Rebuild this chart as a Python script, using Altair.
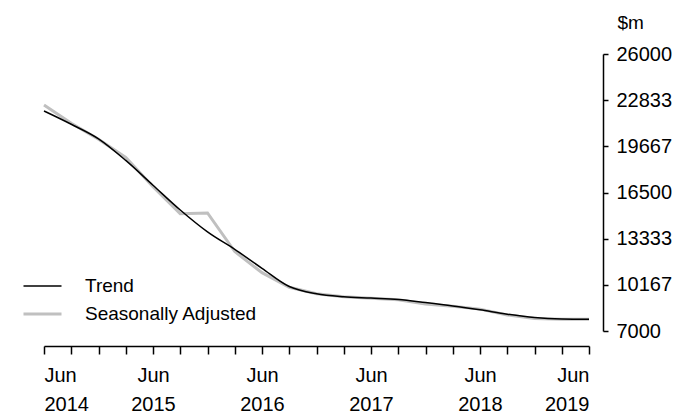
import altair as alt
import pandas as pd

quarters = ["Jun 2014", "Sep 2014", "Dec 2014", "Mar 2015", "Jun 2015", "Sep 2015",
            "Dec 2015", "Mar 2016", "Jun 2016", "Sep 2016", "Dec 2016", "Mar 2017",
            "Jun 2017", "Sep 2017", "Dec 2017", "Mar 2018", "Jun 2018", "Sep 2018",
            "Dec 2018", "Mar 2019", "Jun 2019"]
trend = [22090, 21180, 20180, 18700, 17000, 15300, 13800, 12600, 11300, 10050, 9550,
         9350, 9260, 9160, 8950, 8720, 8450, 8150, 7920, 7820, 7800]
seas_adj = [22500, 21250, 20150, 18900, 16900, 15050, 15100, 12450, 11000, 10000, 9550,
            9350, 9250, 9150, 8850, 8700, 8500, 8100, 7850, 7800, 7800]
y_ticks = [7000, 10167, 13333, 16500, 19667, 22833, 26000]
series_names = ["Trend", "Seasonally Adjusted"]

rows = []
for i, q in enumerate(quarters):
    rows.append({"idx": i, "quarter": q, "series": "Seasonally Adjusted", "value": seas_adj[i]})
for i, q in enumerate(quarters):
    rows.append({"idx": i, "quarter": q, "series": "Trend", "value": trend[i]})
df = pd.DataFrame(rows)

FONT = "Liberation Sans"

legend = alt.Legend(
    title=None, orient="none", legendX=-22, legendY=222,
    symbolType="stroke", symbolSize=1444, labelFontSize=19, labelFont=FONT,
    labelColor="#000", rowPadding=8, labelOffset=22, clipHeight=20, labelLimit=0,
)

x = alt.X("idx:Q", scale=alt.Scale(domain=[0, 20], nice=False, zero=False),
          axis=alt.Axis(values=list(range(21)), title=None, grid=False, offset=15,
                        tickSize=8, tickColor="#000", domainColor="#000", tickWidth=1.5,
                        domainWidth=1.5, labelFont=FONT, labelFontSize=20, labelColor="#000",
                        labelPadding=11, labelLineHeight=29, labelOverlap=False,
                        labelExpr="datum.value % 4 == 0 ? ['Jun', '' + (2014 + datum.value / 4)] : ''"))
y = alt.Y("value:Q", scale=alt.Scale(domain=[7000, 26000], nice=False, zero=False),
          axis=alt.Axis(orient="right", values=y_ticks, grid=False, offset=14, tickSize=5,
                        tickColor="#000", domainColor="#000", tickWidth=1.5, domainWidth=1.5,
                        labelFont=FONT, labelFontSize=20, labelColor="#000", labelPadding=8,
                        format="d", title="$m", titleAngle=0, titleAlign="left",
                        titleBaseline="middle", titleX=14, titleY=-32, titleFont=FONT,
                        titleFontSize=19, titleFontWeight="normal", titleColor="#000"))
color = alt.Color("series:N", scale=alt.Scale(domain=series_names, range=["#000000", "#c0c0c0"]),
                  legend=legend)
width_enc = alt.StrokeWidth("series:N", scale=alt.Scale(domain=series_names, range=[1.5, 3]),
                            legend=legend)

base = alt.Chart(df)
sa_layer = base.transform_filter(alt.datum.series == "Seasonally Adjusted").mark_line().encode(
    x=x, y=y, color=color, strokeWidth=width_enc)
tr_layer = base.transform_filter(alt.datum.series == "Trend").mark_line(
    interpolate="monotone").encode(x=x, y=y, color=color, strokeWidth=width_enc)

chart = alt.layer(sa_layer, tr_layer).properties(
    width=545, height=277,
    background="white",
    autosize=alt.AutoSizeParams(type="none"),
    padding={"left": 44, "top": 54, "right": 109, "bottom": 88},
).configure_view(strokeWidth=0, stroke="transparent")

chart.save("out.html", embed_options={"renderer": "svg", "actions": False})
